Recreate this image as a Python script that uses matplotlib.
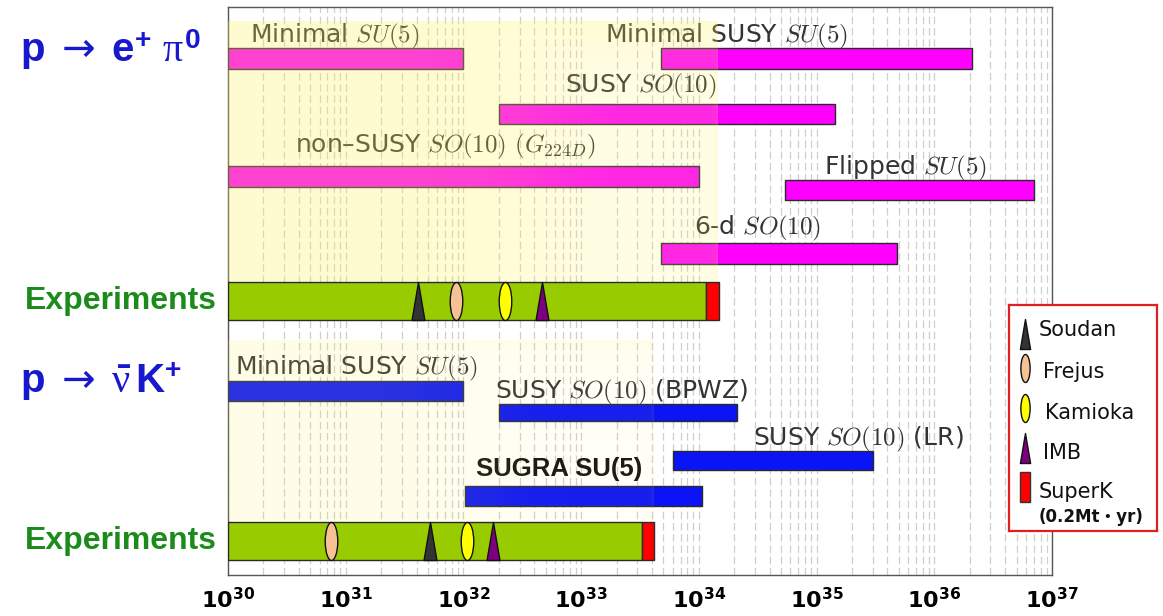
import numpy as np
import matplotlib
matplotlib.use("Agg")
import matplotlib.pyplot as plt
from matplotlib.path import Path
from matplotlib.ticker import LogLocator, NullFormatter

plt.rcParams['mathtext.fontset'] = 'dejavusans'
plt.rcParams['mathtext.rm'] = 'Liberation Sans:bold'
plt.rcParams['mathtext.bf'] = 'Liberation Sans:bold'
plt.rcParams['mathtext.it'] = 'Liberation Serif'
plt.rcParams['mathtext.sf'] = 'DejaVu Sans'

# ---------------- data: log10(lifetime / years) ----------------
epi_models = ["Minimal $SU(5)$", "Minimal SUSY $SU(5)$", "SUSY $SO(10)$",
              "non\u2013SUSY $SO(10)$ $(G_{224D})$", "Flipped $SU(5)$", "6-d $SO(10)$"]
epi_lo = [30.0, 33.68, 32.30, 30.0, 34.73, 33.68]
epi_hi = [32.0, 36.32, 35.16, 34.0, 36.85, 35.68]

nuk_models = ["Minimal SUSY $SU(5)$", "SUSY $SO(10)$ (BPWZ)",
              "SUSY $SO(10)$ (LR)", "SUGRA SU(5)"]
nuk_lo = [30.0, 32.30, 33.78, 32.01]
nuk_hi = [32.0, 34.32, 35.48, 34.03]

experiments = ["Soudan", "Frejus", "Kamioka", "IMB"]
epi_exp_limits = [31.61, 31.94, 32.35, 32.67]
nuk_exp_limits = [31.72, 30.875, 32.03, 32.25]
epi_combined = 34.06
nuk_combined = 33.52
epi_superk = 34.17
nuk_superk = 33.62

decades = list(range(30, 38))

# ---------------- layout (vertical lanes, in pixel-like units) ----------------
epi_lane = [58.5, 58.5, 114.0, 176.5, 190.0, 253.5]
epi_h = [21, 21, 20, 21, 20, 21]
epi_lab_x = [30.187, 33.20, 32.86, 30.57, 35.06, 33.96]
epi_lab_y = [42, 42, 92, 152, 174, 234]
nuk_lane = [391.0, 412.0, 460.5, 496.0]
nuk_h = [20, 17, 19, 20]
nuk_lab_x = [30.06, 32.27, 34.46, 32.11]
nuk_lab_y = [374, 398, 445, 476]
exp_lane = [301.0, 541.0]
exp_h = 38
shade_rows = [(21, 281), (340, 521)]

MAGENTA = '#ff00ff'
BLUE = '#0a14f5'
GREEN_BAR = '#99cc00'
EDGE = '#2a2a2a'
marker_fill = {"Soudan": '#333333', "Frejus": '#f6c294', "Kamioka": '#ffff00', "IMB": '#7d0080'}

# slim marker shapes
tri_path = Path([(-0.17, -0.5), (0.17, -0.5), (0.0, 0.5), (-0.17, -0.5)],
                [Path.MOVETO, Path.LINETO, Path.LINETO, Path.CLOSEPOLY])
circ = Path.unit_circle()
ell_path = Path(circ.vertices * np.array([0.165, 0.5]), circ.codes)
marker_shape = {"Soudan": tri_path, "Frejus": ell_path, "Kamioka": ell_path, "IMB": tri_path}

W, H, DPI = 1163, 616, 100
fig = plt.figure(figsize=(W / DPI, H / DPI), dpi=DPI)
ax_left, ax_right, ax_top, ax_bot = 228, 1052, 7, 575
ax = fig.add_axes([ax_left / W, 1 - ax_bot / H, (ax_right - ax_left) / W, (ax_bot - ax_top) / H])
ax.set_xscale('log')

# theory bars
for lo, hi, yc, h in zip(epi_lo, epi_hi, epi_lane, epi_h):
    ax.barh(yc, 10 ** hi - 10 ** lo, left=10 ** lo, height=h, color=MAGENTA,
            edgecolor=EDGE, linewidth=1.0, zorder=3)
for lo, hi, yc, h in zip(nuk_lo, nuk_hi, nuk_lane, nuk_h):
    ax.barh(yc, 10 ** hi - 10 ** lo, left=10 ** lo, height=h, color=BLUE,
            edgecolor=EDGE, linewidth=1.0, zorder=3)

# model labels
for name, lx, ly in zip(epi_models, epi_lab_x, epi_lab_y):
    ax.text(10 ** lx, ly, name, fontsize=18, family='DejaVu Sans', color='#333333',
            va='baseline', ha='left', math_fontfamily='cm', zorder=5)
for name, lx, ly in zip(nuk_models, nuk_lab_x, nuk_lab_y):
    if name.startswith("SUGRA"):
        ax.text(10 ** lx, ly, name, fontsize=18.5, family='Liberation Sans', weight='bold',
                color='#111111', va='baseline', ha='left', zorder=5)
    else:
        ax.text(10 ** lx, ly, name, fontsize=18, family='DejaVu Sans', color='#333333',
                va='baseline', ha='left', math_fontfamily='cm', zorder=5)

# experimental bars with individual limits
ms = exp_h * 72 / DPI
for yc, comb, sk, limits in zip(exp_lane, [epi_combined, nuk_combined],
                                [epi_superk, nuk_superk], [epi_exp_limits, nuk_exp_limits]):
    ax.barh(yc, 10 ** comb - 1e30, left=1e30, height=exp_h, color=GREEN_BAR,
            edgecolor=EDGE, linewidth=1.0, zorder=3)
    ax.barh(yc, 10 ** sk - 10 ** comb, left=10 ** comb, height=exp_h, color='#ff0000',
            edgecolor=EDGE, linewidth=1.0, zorder=3)
    for exp_name, lim in zip(experiments, limits):
        ax.plot([10 ** lim], [yc], linestyle='none', marker=marker_shape[exp_name],
                markersize=ms, markerfacecolor=marker_fill[exp_name],
                markeredgecolor='#111111', markeredgewidth=1.0, zorder=4)

# excluded-region shading (soft yellow glow)
def glow(alpha0, alpha1, wl, wr, wt):
    u = np.linspace(0, 1, 300)[None, :]
    v = np.linspace(0, 1, 120)[:, None]
    edge = np.maximum.reduce([np.exp(-u / wl) + 0 * v, np.exp(-(1 - u) / wr) + 0 * v,
                              np.exp(-v / wt) + 0 * u])
    img = np.zeros((120, 300, 4))
    img[..., 0] = 1.0
    img[..., 1] = 0.96
    img[..., 2] = 0.35
    img[..., 3] = alpha0 + alpha1 * edge
    return img

ax.imshow(glow(0.16, 0.12, 0.04, 0.06, 0.10),
          extent=(1e30, 10 ** epi_superk, shade_rows[0][1], shade_rows[0][0]),
          aspect='auto', zorder=6, interpolation='bilinear')
ax.imshow(glow(0.05, 0.09, 0.04, 0.04, 0.12),
          extent=(1e30, 10 ** nuk_superk, shade_rows[1][1], shade_rows[1][0]),
          aspect='auto', zorder=6, interpolation='bilinear')

ax.set_xlim(1e30, 1e37)
ax.set_ylim(ax_bot, ax_top)
ax.set_yticks([])
ax.xaxis.set_major_locator(LogLocator(base=10, numticks=20))
ax.xaxis.set_minor_locator(LogLocator(base=10, subs=np.arange(2, 10), numticks=50))
ax.xaxis.set_minor_formatter(NullFormatter())
ax.set_xticks([10.0 ** d for d in decades],
              labels=[rf'$\mathbf{{10^{{{d}}}}}$' for d in decades],
              fontsize=16, math_fontfamily='dejavusans')
ax.tick_params(axis='x', which='both', length=0, pad=9)
ax.grid(True, which='both', axis='x', color='#cfcfcf', linewidth=0.9,
        linestyle=(0, (6, 3)), zorder=1)
ax.set_axisbelow(True)
for sp in ax.spines.values():
    sp.set_color('#555555')
    sp.set_linewidth(1.0)

# reaction-channel labels
def fx(px):
    return px / W

def fy(py):
    return 1 - py / H

fig.text(fx(20), fy(62),
         r'$\mathbf{p}\ \mathsf{\rightarrow}\ \mathbf{e}^{\mathbf{+}}\ \pi^{\mathbf{0}}$',
         fontsize=29, color='#1818cc', math_fontfamily='custom', va='baseline', ha='left')
fig.text(fx(20), fy(393),
         r'$\mathbf{p}\ \mathsf{\rightarrow}\ \bar{\nu}\,\mathbf{K}^{\mathbf{+}}$',
         fontsize=29, color='#1818cc', math_fontfamily='custom', va='baseline', ha='left')
for yc in exp_lane:
    fig.text(fx(25), fy(yc), 'Experiments', fontsize=23, family='Liberation Sans',
             weight='bold', color='#1b8c1b', va='center', ha='left')

# legend box
lx0, lx1, ly0, ly1 = 1009, 1157, 305, 531
lax = fig.add_axes([lx0 / W, 1 - ly1 / H, (lx1 - lx0) / W, (ly1 - ly0) / H])
lax.set_xlim(lx0, lx1)
lax.set_ylim(ly1, ly0)
lax.set_xticks([])
lax.set_yticks([])
for sp in lax.spines.values():
    sp.set_color('#e02020')
    sp.set_linewidth(1.6)
leg_y = [334, 368, 408, 448]
leg_text_y = [330, 372, 413, 453]
leg_text_x = [1039, 1043, 1045, 1043]
for exp_name, my, ty, tx in zip(experiments, leg_y, leg_text_y, leg_text_x):
    lax.plot([1025], [my], linestyle='none', marker=marker_shape[exp_name],
             markersize=(30 if marker_shape[exp_name] is tri_path else 28) * 72 / DPI,
             markerfacecolor=marker_fill[exp_name], markeredgecolor='#111111',
             markeredgewidth=1.0)
    lax.text(tx, ty, exp_name, fontsize=15, family='DejaVu Sans', color='#111111',
             va='center', ha='left')
lax.add_patch(plt.Rectangle((1020, 472), 10, 30, facecolor='#ff0000', edgecolor='#333333', lw=1.0))
lax.text(1039, 492, 'SuperK', fontsize=15, family='DejaVu Sans', color='#111111',
         va='center', ha='left')
lax.text(1039, 517, '(0.2Mt\u30fbyr)', fontsize=12, family=['DejaVu Sans', 'Noto Sans CJK JP'],
         weight='bold', color='#111111', va='center', ha='left')

fig.savefig('out.png', dpi=DPI)
